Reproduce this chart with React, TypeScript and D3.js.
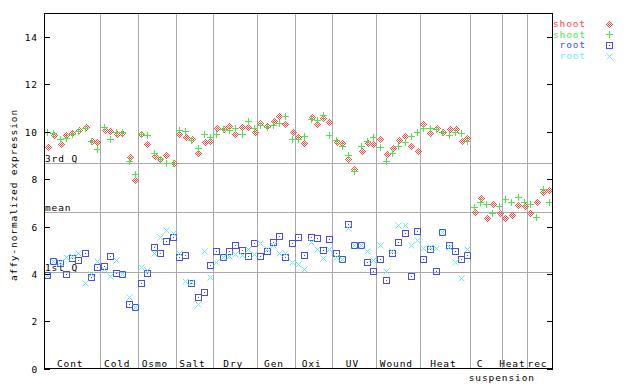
import React from 'react';
import * as d3 from 'd3';

// sample groups along the x axis
const groupNames = [['Cont'], ['Cold'], ['Osmo'], ['Salt'], ['Dry'], ['Gen'], ['Oxi'], ['UV'], ['Wound'], ['Heat'], ['C', 'suspension'], ['Heat'], ['rec']];
const groupSizes = [9, 6, 6, 6, 7, 6, 6, 7, 7, 8, 5, 4, 4];

const shootRed = [
  9.37, 9.87, 9.49, 9.87, 9.94, 10.08, 10.19, 9.63, 9.56,
  10.08, 10.04, 9.91, 9.97, 8.92, 7.95,
  9.89, 9.49, 9.00, 8.84, 9.02, 8.67,
  9.91, 9.80, 9.68, 9.09, 9.58, 9.63,
  10.15, 10.11, 10.25, 9.89, 10.19, 10.19, 10.01,
  10.36, 10.26, 10.46, 10.67, 10.31, 9.98,
  9.77, 9.51, 10.61, 10.32, 10.57, 10.40,
  9.56, 9.51, 8.84, 8.42, 9.20, 9.51, 9.47,
  9.68, 9.05, 9.30, 9.64, 9.82, 9.39, 9.18,
  10.33, 9.94, 10.15, 9.98, 10.12, 10.12, 9.61, 9.73,
  6.63, 7.19, 6.35, 6.95, 6.56,
  6.35, 6.49, 6.91, 6.88,
  6.56, 7.02, 7.47, 7.53,
];
const shootGreen = [
  9.98, 9.94, 9.70, 9.73, 9.91, 10.05, 10.15, 9.63, 9.26,
  10.19, 9.68, 9.98, 10.01, 8.78, 8.22,
  9.91, 9.87, 9.12, 8.84, 8.67, 8.67,
  10.08, 10.04, 9.66, 9.30, 9.89, 9.77,
  9.91, 10.11, 10.08, 10.15, 9.89, 10.46, 10.15,
  10.28, 10.22, 10.28, 10.36, 10.67, 9.70,
  9.68, 9.82, 10.53, 10.50, 10.71, 9.87,
  9.66, 9.40, 9.02, 8.36, 9.40, 9.63, 9.77,
  9.35, 8.78, 9.09, 9.40, 9.58, 9.82, 9.98,
  10.15, 10.15, 10.11, 9.98, 9.87, 9.98, 9.94, 9.61,
  6.84, 7.02, 6.95, 6.59, 6.87,
  7.15, 7.02, 7.23, 7.05,
  6.95, 6.39, 7.60, 7.02,
];
const rootBlue = [
  3.95, 4.54, 4.47, 3.98, 4.65, 4.57, 4.87, 3.85, 4.27,
  4.33, 4.75, 4.02, 4.00, 2.71, 2.61,
  3.60, 4.02, 5.12, 4.87, 5.39, 5.57,
  4.70, 4.78, 3.60, 3.01, 3.25, 4.36,
  4.95, 4.70, 4.95, 5.20, 4.99, 4.75, 5.29,
  4.75, 4.95, 5.33, 5.58, 4.71, 5.29,
  5.54, 4.78, 5.54, 5.50, 4.99, 5.46,
  4.87, 4.61, 6.11, 5.23, 5.23, 4.49, 4.11,
  4.61, 3.72, 4.87, 5.33, 5.71, 3.91, 5.80,
  4.61, 5.04, 4.11, 5.75, 5.20, 4.95, 4.61, 4.78,
];
const rootCyan = [
  3.95, 4.54, 4.50, 4.70, 4.77, 4.87, 3.60, 3.98, 4.54,
  4.19, 3.91, 4.58, 4.00, 3.01, 2.61,
  4.27, 4.16, 4.89, 5.54, 5.85, 5.74,
  4.87, 3.70, 3.67, 2.71, 4.95, 3.85,
  4.49, 4.72, 4.75, 4.82, 4.78, 5.04, 4.82,
  5.29, 5.04, 5.20, 4.87, 4.89, 4.49,
  4.40, 4.19, 5.33, 5.04, 4.65, 5.04,
  4.70, 4.61, 5.92, 5.23, 5.23, 4.95, 4.58,
  5.23, 4.11, 4.95, 6.05, 6.05, 5.23, 5.42,
  5.09, 5.12, 5.08, 5.75, 5.14, 4.49, 3.82, 5.04,
];

const refLabels = ['3rd Q', 'mean', '1st Q'];
const refValues = [8.67, 6.60, 4.07];
const yTicks = [0, 2, 4, 6, 8, 10, 12, 14];
const legendLabels = ['shoot', 'shoot', 'root', 'root'];

const RED = '#ff4848';
const GREEN = '#4ce64c';
const BLUE = '#4c4ce6';
const CYAN = '#66eeee';
const GRID = '#aaaaaa';
const FONT = '"DejaVu Sans Mono", monospace';

const left = 44, right = 552, top = 13.5, bottom = 368.5;
const nSamples = d3.sum(groupSizes);

const x = d3.scaleLinear().domain([-0.5, nSamples - 0.5]).range([left, right]);
const y = d3.scaleLinear().domain([0, 15]).range([bottom, top]);

function Diamond({ cx, cy }) {
  const c = [cx + 0.5, cy + 0.5];
  const r = 4;
  const pts = [[c[0], c[1] - r], [c[0] + r, c[1]], [c[0], c[1] + r], [c[0] - r, c[1]]];
  return <polygon points={pts.map(p => p.join(',')).join(' ')} fill="url(#chk)" shapeRendering="crispEdges" />;
}

function Plus({ cx, cy }) {
  return <g stroke={GREEN} strokeWidth={1} shapeRendering="crispEdges">
    <line x1={cx - 3} x2={cx + 4} y1={cy + 0.5} y2={cy + 0.5} />
    <line x1={cx + 0.5} x2={cx + 0.5} y1={cy - 3} y2={cy + 4} />
  </g>;
}

function Square({ cx, cy }) {
  return <g shapeRendering="crispEdges">
    <rect x={cx - 2.5} y={cy - 2.5} width={6} height={6} fill="none" stroke={BLUE} strokeWidth={1} />
    <rect x={cx} y={cy} width={1} height={1} fill={BLUE} />
  </g>;
}

function Cross({ cx, cy }) {
  return <g stroke={CYAN} strokeWidth={1}>
    <line x1={cx - 2.5} y1={cy - 2.5} x2={cx + 3.5} y2={cy + 3.5} />
    <line x1={cx - 2.5} y1={cy + 3.5} x2={cx + 3.5} y2={cy - 2.5} />
  </g>;
}

const markers = [Diamond, Plus, Square, Cross];
const legendColors = [RED, GREEN, BLUE, CYAN];

export default function App() {
  // cumulative group boundaries
  const bounds = [];
  let acc = 0;
  for (const s of groupSizes) {
    bounds.push([acc, acc + s]);
    acc += s;
  }
  const px = (i) => Math.round(x(i));
  const py = (v) => Math.round(y(v));
  const series = [shootRed, shootGreen, rootBlue, rootCyan];

  return (
    <div style={{ position: 'fixed', left: 0, top: 0 }}>
      <svg width={640} height={384} style={{ display: 'block', background: '#fff' }}
        fontFamily={FONT} fontSize={9.5} letterSpacing={0.9}>
        <defs>
          <pattern id="chk" width={2} height={2} patternUnits="userSpaceOnUse">
            <rect x={0} y={0} width={1} height={1} fill={RED} />
            <rect x={1} y={1} width={1} height={1} fill={RED} />
          </pattern>
        </defs>
        <rect width={640} height={384} fill="#fff" />

        {/* reference lines */}
        {refValues.map((v, k) => (
          <g key={'ref' + k}>
            <line x1={left} x2={right} y1={py(v) + 0.5} y2={py(v) + 0.5} stroke={GRID} shapeRendering="crispEdges" />
            <text x={left + 1} y={py(v) - 1.5} fill="#000">{refLabels[k]}</text>
          </g>
        ))}

        {/* group dividers */}
        {bounds.slice(0, -1).map((b, k) => (
          <line key={'div' + k} x1={px(b[1] - 0.5) + 0.5} x2={px(b[1] - 0.5) + 0.5} y1={top} y2={bottom}
            stroke={GRID} shapeRendering="crispEdges" />
        ))}

        {/* points */}
        {series.map((vals, s) => {
          const M = markers[s];
          return <g key={'s' + s}>
            {vals.map((v, i) => <M key={i} cx={px(i)} cy={py(v)} />)}
          </g>;
        })}

        {/* frame */}
        <g stroke="#000" shapeRendering="crispEdges" fill="none">
          <rect x={left + 0.5} y={top} width={right - left} height={bottom - top} />
          {yTicks.map(t => (
            <g key={'t' + t}>
              <line x1={left} x2={left + 6} y1={py(t) + 0.5} y2={py(t) + 0.5} />
              <line x1={right - 5} x2={right + 1} y1={py(t) + 0.5} y2={py(t) + 0.5} />
            </g>
          ))}
        </g>
        {yTicks.map(t => (
          <text key={'yl' + t} x={38} y={py(t) + 4} textAnchor="end" fill="#000">{t}</text>
        ))}
        <text transform="translate(17,195) rotate(-90)" textAnchor="middle" fill="#000">affy-normalized expression</text>

        {/* group labels */}
        {bounds.map((b, k) => {
          const cx = (x(b[0] - 0.5) + x(b[1] - 0.5)) / 2 - 2;
          const lines = groupNames[k];
          if (lines.length === 1) {
            return <text key={'gl' + k} x={cx} y={367} textAnchor="middle" fill="#000">{lines[0]}</text>;
          }
          return <g key={'gl' + k}>
            <text x={cx - 4} y={367} textAnchor="middle" fill="#000">{lines[0]}</text>
            <text x={x(b[1] - 0.5)} y={381} textAnchor="middle" fill="#000">{lines[1]}</text>
          </g>;
        })}

        {/* legend */}
        {legendLabels.map((l, k) => {
          const M = markers[k];
          const ly = 27 + k * 10.7;
          return <g key={'lg' + k}>
            <text x={586} y={ly} textAnchor="end" fill={legendColors[k]}>{l}</text>
            <M cx={609} cy={Math.round(ly - 3.5)} />
          </g>;
        })}
      </svg>
    </div>
  );
}
